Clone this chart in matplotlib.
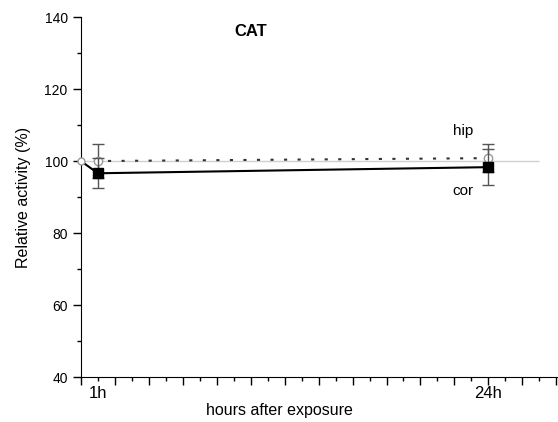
import matplotlib.pyplot as plt

plt.rcParams['font.family'] = ['Liberation Sans', 'DejaVu Sans']

# data
hours = [0, 1, 24]
hip = [100, 100.0, 100.8]
hip_err = [0, 4.6, 3.9]
cor = [100, 96.6, 98.3]
cor_err = [0, 4.2, 5.0]
xlabels = ['1h', '24h']
xlabel_pos = [1, 24]

fig = plt.figure(figsize=(5.58, 4.22), dpi=100)
ax = fig.add_axes([0.145, 0.1066, 0.855, 0.853])

# control reference line
ax.hlines(100, 0, 27, color='#d0d0d0', lw=1, zorder=1)

# hip: dotted line, open grey circles
ax.plot(hours, hip, color='#333333', lw=1.5, ls=(0, (1.5, 5)), zorder=2)
ax.errorbar(hours[1:], hip[1:], yerr=hip_err[1:], fmt='o', ms=6, mfc='white',
            mec='#999999', mew=1, ecolor='#555555', elinewidth=1, capsize=4.5,
            capthick=1, zorder=3)
ax.plot(hours[0], hip[0], 'o', ms=5, mfc='white', mec='#999999', clip_on=False, zorder=3)

# cor: solid line, black squares
ax.plot(hours, cor, color='black', lw=1.5, zorder=2)
ax.errorbar(hours[1:], cor[1:], yerr=cor_err[1:], fmt='s', ms=6.5, mfc='black',
            mec='black', ecolor='#555555', elinewidth=1, capsize=4.5,
            capthick=1, zorder=4)

ax.set_xlim(0, 28.1)
ax.set_ylim(40, 140)
ax.spines['top'].set_visible(False)
ax.spines['right'].set_visible(False)

ax.set_xticks(range(0, 29, 2))
ax.set_xticks(range(1, 29, 2), minor=True)
ax.set_xticklabels([])
ax.set_yticks(range(40, 141, 20))
ax.set_yticks(range(50, 141, 20), minor=True)
ax.tick_params(which='major', length=6, width=1, labelsize=10)
ax.tick_params(which='minor', length=3, width=1)
for x, lab in zip(xlabel_pos, xlabels):
    ax.text(x, -0.025, lab, transform=ax.get_xaxis_transform(),
            ha='center', va='top', fontsize=12)

fig.text(279 / 558, 1 - 410 / 422, 'hours after exposure', fontsize=11.5,
         ha='center', va='center')
ax.set_ylabel('Relative activity (%)', fontsize=11.5, labelpad=10)

ax.text(10.0, 136, 'CAT', fontsize=12, fontweight='bold', ha='center', va='center')
ax.text(22.5, 108.3, 'hip', fontsize=11, ha='center', va='center')
ax.text(22.5, 91.7, 'cor', fontsize=11, ha='center', va='center')

fig.savefig('out.png', dpi=100)
